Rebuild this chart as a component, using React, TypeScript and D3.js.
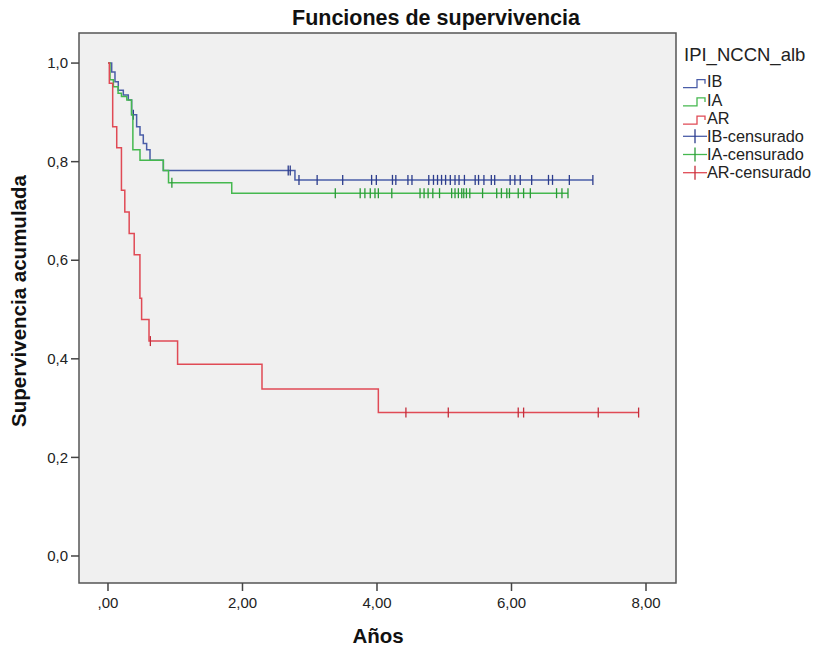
import React from "react";
import * as d3 from "d3";

// Kaplan-Meier steps: time (años) and survival after the drop
const ibTimes = [0, 0.055, 0.104, 0.153, 0.228, 0.302, 0.352, 0.426, 0.476, 0.525, 0.575, 0.625, 0.823, 2.78];
const ibSurv = [1, 0.982, 0.962, 0.945, 0.935, 0.925, 0.895, 0.871, 0.854, 0.837, 0.824, 0.803, 0.782, 0.763];
const ibCensored = [0.377, 2.68, 2.71, 2.84, 3.11, 3.49, 3.92, 3.99, 4.23, 4.28, 4.46, 4.52, 4.77, 4.84, 4.9, 4.96, 5.02, 5.09, 5.16, 5.22, 5.3, 5.46, 5.51, 5.59, 5.7, 5.75, 5.98, 6.05, 6.13, 6.3, 6.55, 6.61, 6.86, 7.21];

const iaTimes = [0, 0.03, 0.08, 0.15, 0.2, 0.28, 0.35, 0.37, 0.476, 0.823, 0.9, 1.84];
const iaSurv = [1, 0.966, 0.952, 0.939, 0.932, 0.925, 0.895, 0.824, 0.803, 0.782, 0.757, 0.736];
const iaCensored = [0.95, 3.38, 3.75, 3.82, 3.9, 3.97, 4.02, 4.22, 4.64, 4.7, 4.76, 4.83, 4.93, 5.11, 5.16, 5.21, 5.26, 5.29, 5.33, 5.38, 5.57, 5.78, 5.85, 5.93, 5.97, 6.1, 6.18, 6.28, 6.67, 6.75, 6.84];

const arTimes = [0, 0.02, 0.07, 0.13, 0.2, 0.25, 0.315, 0.39, 0.475, 0.5, 0.61, 1.035, 2.29, 4.02];
const arSurv = [1, 0.959, 0.871, 0.828, 0.742, 0.698, 0.654, 0.611, 0.523, 0.48, 0.436, 0.389, 0.339, 0.291];
const arCensored = [0.63, 4.43, 5.06, 6.1, 6.18, 7.29, 7.89];

const xTicks = [0, 2, 4, 6, 8];
const xTickLabels = [",00", "2,00", "4,00", "6,00", "8,00"];
const yTicks = [0, 0.2, 0.4, 0.6, 0.8, 1.0];
const yTickLabels = ["0,0", "0,2", "0,4", "0,6", "0,8", "1,0"];

const groups = ["IB", "IA", "AR"];
const lineColors = ["#4a5da8", "#45b84f", "#e04a55"];
const censorColors = ["#2c3c8c", "#2a9a36", "#c42e3b"];

const series = [
  { name: groups[0], times: ibTimes, surv: ibSurv, cens: ibCensored },
  { name: groups[1], times: iaTimes, surv: iaSurv, cens: iaCensored },
  { name: groups[2], times: arTimes, surv: arSurv, cens: arCensored },
];

const W = 817;
const H = 647;
const plot = { left: 79, top: 33, right: 676, bottom: 583 };
const font = "'Liberation Sans', Arial, sans-serif";

const x = d3.scaleLinear().domain([-0.431, 8.446]).range([plot.left, plot.right]);
const y = d3.scaleLinear().domain([-0.0548, 1.061]).range([plot.bottom, plot.top]);

function survAt(times: number[], surv: number[], t: number) {
  const i = d3.bisectRight(times, t) - 1;
  return surv[Math.max(0, i)];
}

export default function App() {
  const line = d3
    .line<[number, number]>()
    .x((d) => x(d[0]))
    .y((d) => y(d[1]))
    .curve(d3.curveStepAfter);

  const legendY0 = 81.7;
  const legendStep = 18.2;

  return (
    <svg
      width={W}
      height={H}
      style={{ position: "absolute", left: 0, top: 0, background: "#fff" }}
      fontFamily={font}
    >
      <rect
        x={plot.left}
        y={plot.top}
        width={plot.right - plot.left}
        height={plot.bottom - plot.top}
        fill="#f0f0f0"
        stroke="#555"
        strokeWidth={1.5}
      />

      {series.map((s, i) => {
        const end = Math.max(d3.max(s.times)!, d3.max(s.cens)!);
        const pts: [number, number][] = s.times.map((t, k) => [t, s.surv[k]]);
        pts.push([end, s.surv[s.surv.length - 1]]);
        return (
          <g key={s.name}>
            <path d={line(pts) || ""} fill="none" stroke={lineColors[i]} strokeWidth={1.5} />
            {s.cens.map((t, k) => {
              const v = survAt(s.times, s.surv, t);
              return (
                <line
                  key={k}
                  x1={x(t)}
                  x2={x(t)}
                  y1={y(v) - 5}
                  y2={y(v) + 5}
                  stroke={censorColors[i]}
                  strokeWidth={1.3}
                />
              );
            })}
          </g>
        );
      })}

      {/* y axis */}
      {yTicks.map((t, i) => (
        <g key={"y" + i}>
          <line x1={plot.left - 8} x2={plot.left} y1={y(t)} y2={y(t)} stroke="#444" strokeWidth={1.5} />
          <text x={plot.left - 11} y={y(t)} dy="0.35em" textAnchor="end" fontSize={15} fill="#222">
            {yTickLabels[i]}
          </text>
        </g>
      ))}

      {/* x axis */}
      {xTicks.map((t, i) => (
        <g key={"x" + i}>
          <line x1={x(t)} x2={x(t)} y1={plot.bottom} y2={plot.bottom + 8} stroke="#444" strokeWidth={1.5} />
          <text x={x(t)} y={plot.bottom + 25} textAnchor="middle" fontSize={15} fill="#222">
            {xTickLabels[i]}
          </text>
        </g>
      ))}

      <text x={292} y={25} fontSize={21.5} fontWeight="bold" fill="#111">
        Funciones de supervivencia
      </text>
      <text x={378} y={643} textAnchor="middle" fontSize={20.5} fontWeight="bold" fill="#111">
        Años
      </text>
      <text
        transform={`translate(26,301) rotate(-90)`}
        textAnchor="middle"
        fontSize={20.5}
        fontWeight="bold"
        fill="#111"
      >
        Supervivencia acumulada
      </text>

      {/* legend */}
      <text x={684} y={61} fontSize={18.5} fill="#222">
        IPI_NCCN_alb
      </text>
      {groups.map((g, i) => {
        const cy = legendY0 + i * legendStep;
        return (
          <g key={"l" + g}>
            <path
              d={`M683,${cy + 6}H697V${cy - 2}H705V${cy + 2}`}
              fill="none"
              stroke={lineColors[i]}
              strokeWidth={1.3}
            />
            <text x={707} y={cy} dy="0.35em" fontSize={16.3} fill="#222">
              {g}
            </text>
          </g>
        );
      })}
      {groups.map((g, i) => {
        const cy = legendY0 + (i + 3) * legendStep;
        return (
          <g key={"c" + g}>
            <line x1={683} x2={707} y1={cy} y2={cy} stroke={lineColors[i]} strokeWidth={1.3} />
            <line x1={695} x2={695} y1={cy - 7} y2={cy + 7} stroke={censorColors[i]} strokeWidth={1.3} />
            <text x={707} y={cy} dy="0.35em" fontSize={16.3} fill="#222">
              {g + "-censurado"}
            </text>
          </g>
        );
      })}
    </svg>
  );
}
